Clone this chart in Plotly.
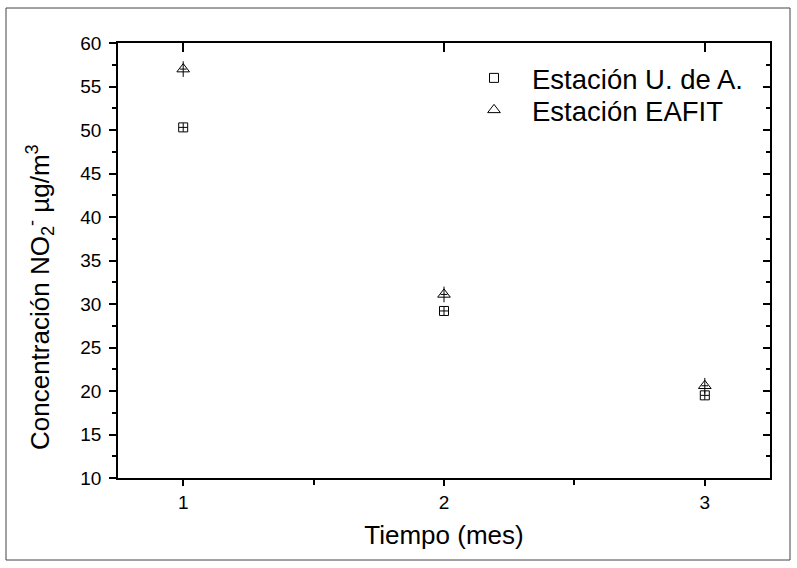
import plotly.graph_objects as go

months = [1, 2, 3]
udea = [50.3, 29.2, 19.5]
eafit = [57.0, 31.1, 20.6]
udea_err = [0.5, 0.5, 0.5]
eafit_err = [0.9, 0.9, 0.9]
udea_xerr = [0.016, 0.016, 0.016]
eafit_xerr = [0.013, 0.013, 0.013]
names = ["Estación U. de A.", "Estación EAFIT"]
yticks = [10, 15, 20, 25, 30, 35, 40, 45, 50, 55, 60]
ytitle = "Concentración NO<sub>2</sub><sup>-</sup> µg/m<sup>3</sup>"
xtitle = "Tiempo (mes)"

FONT = "Liberation Sans, Arial, sans-serif"

fig = go.Figure()
fig.add_trace(go.Scatter(
    x=months, y=udea, mode="markers", name=names[0], legend="legend",
    marker=dict(symbol="square-open", size=9, color="black", line=dict(width=1, color="black")),
    error_y=dict(type="data", array=udea_err, width=0, thickness=1, color="black"),
    error_x=dict(type="data", array=udea_xerr, width=0, thickness=1, color="black"),
))
fig.add_trace(go.Scatter(
    x=months, y=eafit, mode="markers", name=names[1], legend="legend2",
    marker=dict(symbol="triangle-up-open", size=11, color="black", line=dict(width=1, color="black")),
    error_y=dict(type="data", array=eafit_err, width=0, thickness=1, color="black"),
    error_x=dict(type="data", array=eafit_xerr, width=0, thickness=1, color="black"),
))

axis_common = dict(showgrid=False, zeroline=False, showline=True, linecolor="black", linewidth=1.5)
leg_common = dict(xanchor="left", yanchor="middle", bgcolor="rgba(0,0,0,0)",
                  font=dict(size=27.5, family=FONT), itemwidth=66)

fig.update_layout(
    width=797, height=568,
    paper_bgcolor="white", plot_bgcolor="white",
    margin=dict(l=118, r=27, t=43, b=90, autoexpand=False),
    font=dict(family=FONT, color="black"),
    showlegend=True,
    legend=dict(x=(456 - 118) / 652, y=(478 - 78) / 435, **leg_common),
    legend2=dict(x=(456 - 118) / 652, y=(478 - 110) / 435, **leg_common),
    xaxis=dict(range=[0.75, 3.25], tickmode="array", tickvals=months,
               ticks="outside", ticklen=6, tickwidth=1.5, tickcolor="black",
               minor=dict(tickvals=[1.5, 2.5], ticks="outside", ticklen=5, tickwidth=1.5, tickcolor="black"),
               tickfont=dict(size=19), title=dict(text=xtitle, font=dict(size=26), standoff=14),
               **axis_common),
    yaxis=dict(range=[10, 60], tickmode="array", tickvals=yticks,
               ticks="outside", ticklen=7, tickwidth=1.5, tickcolor="black",
               minor=dict(dtick=2.5, tick0=10, ticks="outside", ticklen=4, tickwidth=1.5, tickcolor="black"),
               tickfont=dict(size=19), ticklabelstandoff=4,
               **axis_common),
    xaxis2=dict(range=[0.75, 3.25], overlaying="x", side="top", anchor="y",
                tickmode="array", tickvals=months, ticks="inside", ticklen=9, tickwidth=1.5,
                tickcolor="black", showticklabels=False, **axis_common),
    yaxis2=dict(range=[10, 60], overlaying="y", side="right", anchor="x",
                tickmode="array", tickvals=yticks, ticks="inside", ticklen=7, tickwidth=1.5,
                tickcolor="black", showticklabels=False,
                minor=dict(dtick=2.5, tick0=10, ticks="inside", ticklen=4, tickwidth=1.5, tickcolor="black"),
                **axis_common),
)

fig.add_trace(go.Scatter(x=[None], y=[None], xaxis="x2", yaxis="y2", showlegend=False, hoverinfo="skip"))

fig.add_annotation(text=ytitle, xref="paper", yref="paper",
                   x=(40 - 118) / 652, y=(478 - 297) / 435, textangle=-90,
                   showarrow=False, font=dict(size=26, family=FONT, color="black"),
                   xanchor="center", yanchor="middle")

fig.add_shape(type="rect", xref="paper", yref="paper",
              x0=(6 - 118) / 652, x1=(790 - 118) / 652,
              y0=(478 - 560) / 435, y1=(478 - 8) / 435,
              line=dict(color="#444444", width=1), layer="below")

fig.write_html("out.html", config={"displayModeBar": False},
               post_script="document.body.style.margin='0px';")
